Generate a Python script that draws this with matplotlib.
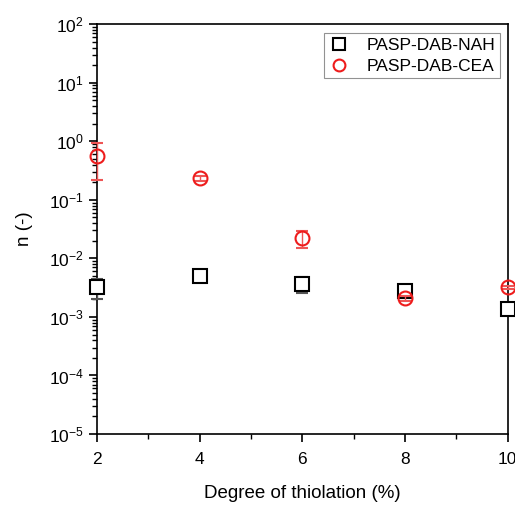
import matplotlib
matplotlib.use("Agg")
import matplotlib.pyplot as plt
from matplotlib.lines import Line2D
from matplotlib.ticker import LogLocator, MultipleLocator, NullFormatter

plt.rcParams['font.family'] = ['Liberation Sans', 'DejaVu Sans']
plt.rcParams['mathtext.fontset'] = 'custom'
plt.rcParams['mathtext.rm'] = 'Liberation Sans'
plt.rcParams['mathtext.it'] = 'Liberation Sans:italic'
plt.rcParams['mathtext.bf'] = 'Liberation Sans:bold'
plt.rcParams['axes.unicode_minus'] = False

# data
thiolation = [2, 4, 6, 8, 10]
nah_n = [0.0033, 0.0050, 0.0037, 0.0028, 0.00134]
nah_lo = [0.0013, 0.0004, 0.0011, 0.0002, 0.0001]
nah_hi = [0.0012, 0.0004, 0.0011, 0.0002, 0.0001]
cea_n = [0.57, 0.233, 0.022, 0.0021, 0.0032]
cea_lo = [0.35, 0.02, 0.0072, 0.0002, 0.0002]
cea_hi = [0.36, 0.02, 0.0075, 0.0002, 0.0002]

red = '#ee1c1c'

fig = plt.figure(figsize=(5.15, 5.05), dpi=100)
ax = fig.add_axes([0.188, 0.1406, 0.798, 0.8114])

ax.errorbar(thiolation, nah_n, yerr=[nah_lo, nah_hi], fmt='s', ms=9.5,
            mfc='white', mec='black', mew=1.5, ecolor='#555555', elinewidth=1,
            capsize=4, capthick=1, zorder=3, clip_on=False)
ax.errorbar(thiolation, cea_n, yerr=[cea_lo, cea_hi], fmt='o', ms=10,
            mfc='none', mec=red, mew=1.5, ecolor='#ee5555', elinewidth=1,
            capsize=4, capthick=1, zorder=4, clip_on=False)

ax.set_yscale('log')
ax.set_xlim(2, 10)
ax.set_ylim(1e-5, 1e2)
ax.xaxis.set_major_locator(MultipleLocator(2))
ax.xaxis.set_minor_locator(MultipleLocator(1))
ax.yaxis.set_major_locator(LogLocator(base=10, numticks=20))
ax.yaxis.set_minor_locator(LogLocator(base=10, subs=range(2, 10), numticks=20))
ax.yaxis.set_minor_formatter(NullFormatter())

ax.tick_params(axis='both', which='major', direction='out', length=6, width=1.2,
               labelsize=12.5, top=False, right=False)
ax.tick_params(axis='x', which='major', pad=7)
ax.tick_params(axis='both', which='minor', direction='out', length=3.5, width=1,
               top=False, right=False)
for s in ax.spines.values():
    s.set_linewidth(1.2)

ax.set_xlabel('Degree of thiolation (%)', fontsize=13.5, labelpad=13)
ax.set_ylabel('n (-)', fontsize=13.5, labelpad=11)

handles = [
    Line2D([], [], ls='none', marker='s', ms=8, mfc='white', mec='black', mew=1.5),
    Line2D([], [], ls='none', marker='o', ms=8.5, mfc='none', mec=red, mew=1.5),
]
leg = ax.legend(handles, ['PASP-DAB-NAH', 'PASP-DAB-CEA'], loc='upper right',
                fontsize=12.5, frameon=True, fancybox=False, edgecolor='#777777',
                handletextpad=1.0, handlelength=1.2, borderpad=0.25,
                labelspacing=0.35, borderaxespad=0,
                bbox_to_anchor=(0.98, 0.978))
leg.get_frame().set_linewidth(0.8)

fig.savefig('out.png', dpi=100)
